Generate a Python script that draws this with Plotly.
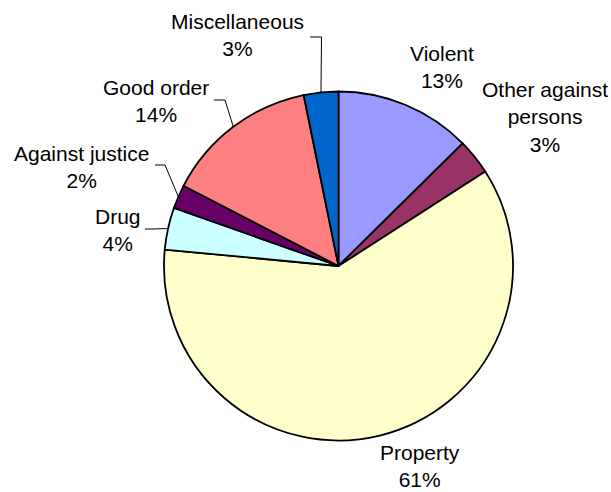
import math
import plotly.graph_objects as go

categories = ["Violent", "Other against persons", "Property", "Drug",
              "Against justice", "Good order", "Miscellaneous"]
label_text = ["Violent", "Other against<br>persons", "Property", "Drug",
              "Against justice", "Good order", "Miscellaneous"]
values = [12.6, 3.3, 60.6, 3.9, 2.2, 14.2, 3.2]
colors = ["#9999FF", "#993366", "#FFFFCC", "#CCFFFF", "#660066", "#FF8080", "#0066CC"]

# label placement (pixels) and leader-line starting points
label_pos = {
    "Violent": (442, 67),
    "Other against persons": (545, 117),
    "Property": (420, 466),
    "Drug": (118, 230),
    "Against justice": (81, 167),
    "Good order": (156, 101),
    "Miscellaneous": (237, 35),
}
leader_start = {
    "Drug": [(145, 229), (153, 229)],
    "Against justice": [(155, 165), (165, 165)],
    "Good order": [(214, 100), (225, 100)],
    "Miscellaneous": [(310, 37), (321.5, 37)],
}

W, H = 611, 492
cx, cy, r = 338.5, 266, 174.5

fig = go.Figure()
fig.add_trace(go.Pie(
    labels=categories, values=values, sort=False, direction="clockwise",
    rotation=0, textinfo="none", hoverinfo="label+percent",
    marker=dict(colors=colors, line=dict(color="black", width=1.8)),
    domain=dict(x=[(cx - r) / W, (cx + r) / W], y=[1 - (cy + r) / H, 1 - (cy - r) / H]),
    showlegend=False,
))

total = sum(values)
cum = 0
annotations = []
shapes = []
for cat, lab, v in zip(categories, label_text, values):
    mid = (cum + v / 2) / total
    cum += v
    ang = 2 * math.pi * mid
    ex, ey = cx + r * math.sin(ang), cy - r * math.cos(ang)
    pct = round(v / total * 100)
    lx, ly = label_pos[cat]
    annotations.append(dict(x=lx, y=ly, xref="x", yref="y", text=f"{lab}<br>{pct}%",
                            showarrow=False, align="center", borderpad=0,
                            font=dict(family="Liberation Sans, Arial", size=21, color="black")))
    if cat in leader_start:
        pts = leader_start[cat] + [(ex, ey)]
        for (x0, y0), (x1, y1) in zip(pts[:-1], pts[1:]):
            shapes.append(dict(type="line", xref="x", yref="y", x0=x0, y0=y0, x1=x1, y1=y1,
                               line=dict(color="black", width=1)))

fig.update_layout(
    width=W, height=H, margin=dict(l=0, r=0, t=0, b=0),
    paper_bgcolor="white", plot_bgcolor="rgba(0,0,0,0)",
    xaxis=dict(range=[0, W], visible=False, fixedrange=True),
    yaxis=dict(range=[H, 0], visible=False, fixedrange=True),
    annotations=annotations, shapes=shapes,
)
fig.write_html("out.html", config={"displayModeBar": False},
               post_script="document.body.style.margin='0';document.body.style.overflow='hidden';")
